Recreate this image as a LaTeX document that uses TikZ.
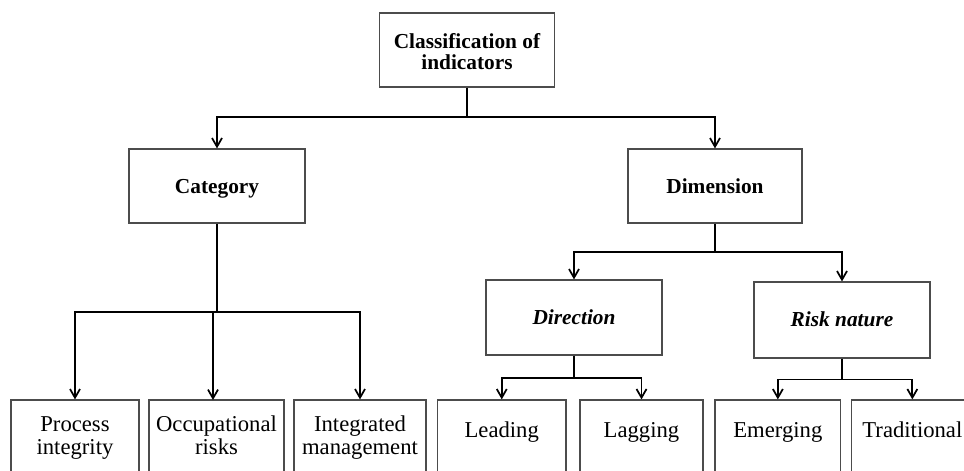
\documentclass[tikz,border=0pt]{standalone}
\usepackage{fontspec}
\setmainfont{Liberation Serif}
\usetikzlibrary{arrows.meta,fit}
\begin{document}
\begin{tikzpicture}[x=0.75pt,y=-0.75pt,
  box/.style={draw=black!70, line width=0.9pt, fill=white, inner sep=0pt},
  wire/.style={line width=1.3pt},
  conn/.style={line width=1.3pt, -{Straight Barb[length=6.5pt,width=7.5pt,line width=1.3pt]}},
  txt/.style={font=\fontsize{17}{17}\selectfont, align=center, inner sep=0pt, anchor=base},
  head/.style={font=\fontsize{16}{15.4}\selectfont\bfseries, align=center, inner sep=0pt, anchor=base},
  headit/.style={font=\fontsize{16}{15.4}\selectfont\bfseries\itshape, align=center, inner sep=0pt, anchor=base}]
\useasboundingbox (0,0) rectangle (964,471);
\clip (0,0) rectangle (964,471);
% boxes
\node[box, fit={(379.5,13) (554.5,87)}] (top) {};
\node[box, fit={(129,149) (305,223)}] (cat) {};
\node[box, fit={(628,149) (802,223)}] (dim) {};
\node[box, fit={(486,280) (662,355)}] (dir) {};
\node[box, fit={(754,282) (930,358)}] (risk) {};
\node[box, fit={(11,400) (139,490)}] (pi) {};
\node[box, fit={(149,400) (284,490)}] (oc) {};
\node[box, fit={(294,400) (426,490)}] (im) {};
\node[box, fit={(437.5,400) (566,490)}] (le) {};
\node[box, fit={(580,400) (703,490)}] (la) {};
\node[box, fit={(715,400) (840.7,490)}] (em) {};
\node[box, fit={(851.7,400) (973,490)}] (tr) {};
% labels
\node[head] (ttop) at (467,69.5) {Classification of\\indicators};
\node[head] (tcat) at (217,193) {Category};
\node[head] (tdim) at (715,193) {Dimension};
\node[headit] (tdir) at (574,324.5) {Direction};
\node[headit] (trisk) at (842,326.5) {Risk nature};
\node[txt] (tpi) at (75,454.3) {Process\\integrity};
\node[txt] (toc) at (216.5,454.3) {Occupational\\risks};
\node[txt] (tim) at (360,454.3) {Integrated\\management};
\node[txt] (tle) at (501.75,437) {Leading};
\node[txt] (tla) at (641.5,437) {Lagging};
\node[txt] (tem) at (777.85,437) {Emerging};
\node[txt] (ttr) at (912.35,437) {Traditional};
% junctions
\coordinate (j1) at (467,117);
\coordinate (j2) at (217,312);
\coordinate (j3) at (715,252);
\coordinate (j4) at (574,378);
\coordinate (j5) at (842,379.5);
\coordinate (oct) at (213,400);
% connectors
\draw[wire] (top.south) -- (j1);
\draw[conn] (j1) -| (cat.north);
\draw[conn] (j1) -| (dim.north);
\draw[wire] (cat.south) -- (j2);
\draw[conn] (j2) -| (pi.north);
\draw[conn] (j2 -| oct) -- (oct);
\draw[conn] (j2) -| (im.north);
\draw[wire] (dim.south) -- (j3);
\draw[conn] (j3) -| (dir.north);
\draw[conn] (j3) -| (risk.north);
\draw[wire] (dir.south) -- (j4);
\draw[conn] (j4) -| (le.north);
\draw[conn] (j4) -| (la.north);
\draw[wire] (risk.south) -- (j5);
\draw[conn] (j5) -| (em.north);
\draw[conn] (j5) -| (tr.north);
\end{tikzpicture}
\end{document}
